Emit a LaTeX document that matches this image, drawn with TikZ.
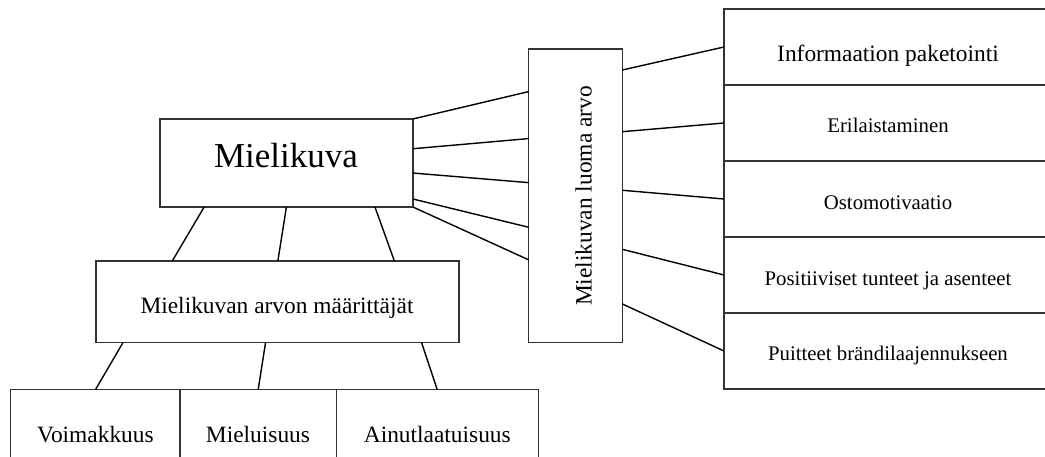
\documentclass[tikz,border=0pt]{standalone}
\usepackage{fontspec}
\setmainfont{Liberation Serif}
\usetikzlibrary{calc}
\begin{document}
\begin{tikzpicture}[x=1pt,y=-1pt,
  box/.style={draw=black!80,line width=1.3pt,inner sep=0pt,outer sep=0pt,rectangle},
  link/.style={draw=black,line width=1.4pt},
  big/.style={font=\fontsize{23.4}{27}\selectfont,inner sep=0pt},
  tms/.style={font=\fontsize{20.8}{24}\selectfont,inner sep=0pt}]
\useasboundingbox (0,0) rectangle (1045,457);

% central image box
\node[box,minimum width=253pt,minimum height=88pt] (mk) at (286.4,163) {};
\node[anchor=base,inner sep=0pt,font=\fontsize{35}{40}\selectfont] (mkt) at (286,167.7) {Mielikuva};

% determinants box
\node[box,minimum width=363pt,minimum height=81.7pt] (ma) at (277.5,301.9) {};
\node[big,anchor=base] (mat) at (277,313.3) {Mielikuvan arvon määrittäjät};

% three determinants
\node[box,minimum width=169.2pt,minimum height=90pt] (vo) at (95.4,434.8) {};
\node[box,minimum width=156.3pt,minimum height=90pt] (ml) at (258.15,434.8) {};
\node[box,minimum width=202pt,minimum height=90pt] (ai) at (437.3,434.8) {};
\node[big,anchor=base] (vot) at (95.4,442) {Voimakkuus};
\node[big,anchor=base] (mlt) at (258,442) {Mieluisuus};
\node[big,anchor=base] (ait) at (437.3,442) {Ainutlaatuisuus};

% value created by the image (vertical box)
\node[box,minimum width=93.6pt,minimum height=293.7pt] (lv) at (575.5,195.85) {};
\node[big,rotate=90,anchor=base] (lvt) at (591.5,196) {Mielikuvan luoma arvo};

% value components
\node[box,minimum width=328pt,minimum height=76pt] (r1) at (888,47) {};
\node[box,minimum width=328pt,minimum height=76pt] (r2) at (888,123) {};
\node[box,minimum width=328pt,minimum height=76pt] (r3) at (888,199) {};
\node[box,minimum width=328pt,minimum height=76pt] (r4) at (888,275) {};
\node[box,minimum width=328pt,minimum height=76pt] (r5) at (888,351) {};
\node[big,anchor=base] (r1t) at (888,61.5) {Informaation paketointi};
\node[tms,anchor=base] (r2t) at (888,133) {Erilaistaminen};
\node[tms,anchor=base] (r3t) at (888,210) {Ostomotivaatio};
\node[tms,anchor=base] (r4t) at (888,286) {Positiiviset tunteet ja asenteet};
\node[tms,anchor=base] (r5t) at (888,360) {Puitteet brändilaajennukseen};

% image -> determinants
\draw[link] ($(mk.south west)!0.175!(mk.south east)$) -- ($(ma.north west)!0.21!(ma.north east)$);
\draw[link] ($(mk.south west)!0.50!(mk.south east)$) -- ($(ma.north west)!0.501!(ma.north east)$);
\draw[link] ($(mk.south west)!0.85!(mk.south east)$) -- ($(ma.north west)!0.822!(ma.north east)$);

% determinants -> three determinants
\draw[link] ($(ma.south west)!0.074!(ma.south east)$) -- (vo.north);
\draw[link] ($(ma.south west)!0.467!(ma.south east)$) -- (ml.north);
\draw[link] ($(ma.south west)!0.897!(ma.south east)$) -- (ai.north);

% image -> value box
\draw[link] (mk.north east) -- ($(lv.north west)!0.145!(lv.south west)$);
\draw[link] ($(mk.north east)!0.338!(mk.south east)$) -- ($(lv.north west)!0.305!(lv.south west)$);
\draw[link] ($(mk.north east)!0.614!(mk.south east)$) -- ($(lv.north west)!0.455!(lv.south west)$);
\draw[link] ($(mk.north east)!0.909!(mk.south east)$) -- ($(lv.north west)!0.607!(lv.south west)$);
\draw[link] (mk.south east) -- ($(lv.north west)!0.718!(lv.south west)$);

% value box -> components
\draw[link] ($(lv.north east)!0.0715!(lv.south east)$) -- (r1.west);
\draw[link] ($(lv.north east)!0.2816!(lv.south east)$) -- (r2.west);
\draw[link] ($(lv.north east)!0.481!(lv.south east)$) -- (r3.west);
\draw[link] ($(lv.north east)!0.682!(lv.south east)$) -- (r4.west);
\draw[link] ($(lv.north east)!0.868!(lv.south east)$) -- (r5.west);
\end{tikzpicture}
\end{document}
